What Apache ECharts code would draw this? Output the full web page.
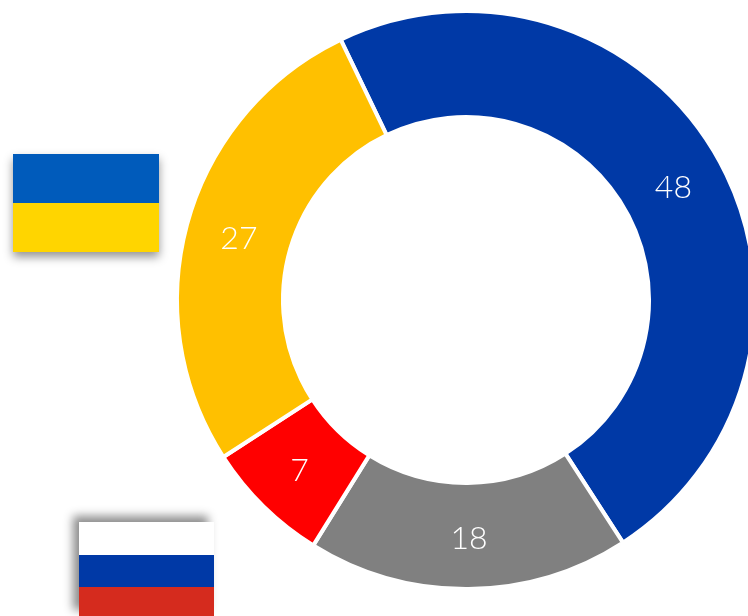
<!DOCTYPE html>
<html><head><meta charset="utf-8">
<style>html,body{margin:0;padding:0;background:#fff}#c{width:748px;height:616px}</style>
<script src="https://cdn.jsdelivr.net/npm/echarts@6/dist/echarts.min.js"></script>
</head><body><div id="c"></div>
<script>
const categories = ['Blue', 'Grey', 'Red', 'Yellow'];
const values = [48, 18, 7, 27];
const colors = ['#0039A6', '#808080', '#FF0000', '#FFC000'];
const chart = echarts.init(document.getElementById('c'), null, {renderer: 'canvas'});
const flagRect = (x, y, w, h, fill, extra) => ({
  type: 'rect', z: 10,
  shape: {x, y, width: w, height: h},
  style: Object.assign({fill}, extra || {})
});
const labelNudge = {Blue: [-1, 5], Grey: [1, 0], Red: [1, 0], Yellow: [3, 3]};
chart.setOption({
  animation: false,
  backgroundColor: '#ffffff',
  series: [{
    type: 'pie',
    center: [466, 300],
    radius: [183, 289],
    startAngle: 115.7,
    clockwise: true,
    avoidLabelOverlap: false,
    silent: true,
    itemStyle: {borderColor: '#fff', borderWidth: 4},
    label: {
      show: true, position: 'inside', formatter: '{c}',
      color: '#fff', fontFamily: 'Lato', fontWeight: 300, fontSize: 32
    },
    labelLine: {show: false},
    data: categories.map((name, i) => ({
      name, value: values[i], itemStyle: {color: colors[i]},
      label: {offset: labelNudge[name]}
    }))
  }],
  graphic: [
    flagRect(13, 154, 146, 98, '#005BBB', {shadowBlur: 9, shadowColor: 'rgba(0,0,0,0.42)', shadowOffsetX: 0, shadowOffsetY: 5}),
    flagRect(13, 203, 146, 49, '#FFD500'),
    flagRect(79, 522, 135, 94, '#ffffff', {shadowBlur: 9, shadowColor: 'rgba(0,0,0,0.45)', shadowOffsetX: -6, shadowOffsetY: -6}),
    flagRect(79, 555, 135, 33, '#0039A6'),
    flagRect(79, 587, 135, 29, '#D52B1E')
  ]
});
</script></body></html>
